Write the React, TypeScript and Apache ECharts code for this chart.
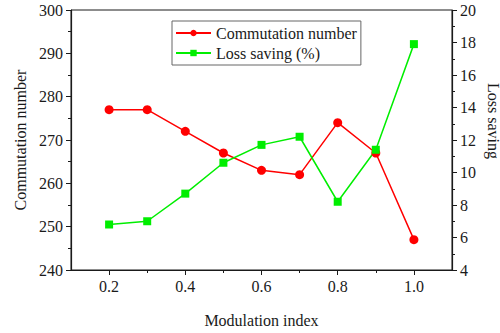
import React, { useEffect, useRef } from "react";
import * as echarts from "echarts";

const modulationIndex = [0.2, 0.3, 0.4, 0.5, 0.6, 0.7, 0.8, 0.9, 1.0];
const commutationNumber = [277, 277, 272, 267, 263, 262, 274, 267, 247];
const lossSaving = [6.8, 7.0, 8.7, 10.6, 11.7, 12.2, 8.2, 11.4, 17.9];
const xMajorTicks = [0.2, 0.4, 0.6, 0.8, 1.0];
const xMinorTicks = [0.3, 0.5, 0.7, 0.9];

const FONT = "'Liberation Serif', 'Times New Roman', serif";
const INK = "#1a1a1a";

export default function App() {
  const ref = useRef<HTMLDivElement>(null);

  useEffect(() => {
    if (!ref.current) return;
    const chart = echarts.init(ref.current, undefined, { renderer: "svg" });

    const axisText = { color: INK, fontFamily: FONT, fontSize: 16 };

    chart.setOption({
      animation: false,
      backgroundColor: "#fff",
      grid: {
        left: 71,
        right: 48,
        top: 10,
        bottom: 55,
        show: true,
        borderColor: INK,
        borderWidth: 1,
      },
      legend: {
        orient: "vertical",
        left: 172,
        top: 21,
        itemWidth: 35,
        itemHeight: 8,
        itemGap: 4,
        padding: [4, 4, 4, 3],
        borderColor: "#666",
        borderWidth: 1,
        textStyle: { color: INK, fontFamily: FONT, fontSize: 16, lineHeight: 16 },
        data: ["Commutation number", "Loss saving (%)"],
      },
      xAxis: [
        {
          type: "value",
          min: 0.1,
          max: 1.1,
          interval: 0.1,
          name: "Modulation index",
          nameLocation: "middle",
          nameGap: 42,
          nameTextStyle: axisText,
          axisLine: { show: true, lineStyle: { color: INK, width: 1.2 } },
          axisTick: {
            show: true,
            length: 5,
            customValues: xMajorTicks,
            lineStyle: { color: INK },
          },
          axisLabel: {
            ...axisText,
            margin: 8,
            customValues: xMajorTicks,
            formatter: (v: number) => v.toFixed(1),
          },
          splitLine: { show: false },
        },
        {
          type: "value",
          position: "bottom",
          min: 0.1,
          max: 1.1,
          interval: 0.1,
          axisLine: { show: false },
          axisTick: {
            show: true,
            length: 3,
            customValues: xMinorTicks,
            lineStyle: { color: INK },
          },
          axisLabel: { show: false },
          splitLine: { show: false },
        },
      ],
      yAxis: [
        {
          type: "value",
          min: 240,
          max: 300,
          interval: 10,
          name: "Commutation number",
          nameLocation: "middle",
          nameGap: 42,
          nameTextStyle: axisText,
          axisLine: { show: true, lineStyle: { color: INK, width: 1.2 } },
          axisTick: { show: true, length: 5, lineStyle: { color: INK } },
          minorTick: { show: true, splitNumber: 2, length: 3, lineStyle: { color: INK } },
          axisLabel: { ...axisText, margin: 8 },
          splitLine: { show: false },
        },
        {
          type: "value",
          min: 4,
          max: 20,
          interval: 2,
          position: "right",
          axisLine: { show: true, lineStyle: { color: INK, width: 1.2 } },
          axisTick: { show: true, length: 5, lineStyle: { color: INK } },
          minorTick: { show: true, splitNumber: 2, length: 3, lineStyle: { color: INK } },
          axisLabel: { ...axisText, margin: 8 },
          splitLine: { show: false },
        },
      ],
      graphic: [
        {
          type: "text",
          x: 493,
          y: 121,
          rotation: -Math.PI / 2,
          style: {
            text: "Loss saving",
            fill: INK,
            font: `16px ${FONT}`,
            align: "center",
            verticalAlign: "middle",
          },
        },
      ],
      series: [
        {
          name: "Commutation number",
          type: "line",
          xAxisIndex: 0,
          yAxisIndex: 0,
          data: modulationIndex.map((x, i) => [x, commutationNumber[i]]),
          symbol: "circle",
          symbolSize: 9,
          itemStyle: { color: "#ff0000" },
          lineStyle: { color: "#ff0000", width: 1.5 },
        },
        {
          name: "Loss saving (%)",
          type: "line",
          xAxisIndex: 0,
          yAxisIndex: 1,
          data: modulationIndex.map((x, i) => [x, lossSaving[i]]),
          symbol: "rect",
          symbolSize: 8,
          itemStyle: { color: "#00ee00" },
          lineStyle: { color: "#00ee00", width: 1.5 },
        },
      ],
    });

    return () => chart.dispose();
  }, []);

  return <div ref={ref} style={{ width: 500, height: 333, position: "absolute", left: 0, top: 0 }} />;
}
